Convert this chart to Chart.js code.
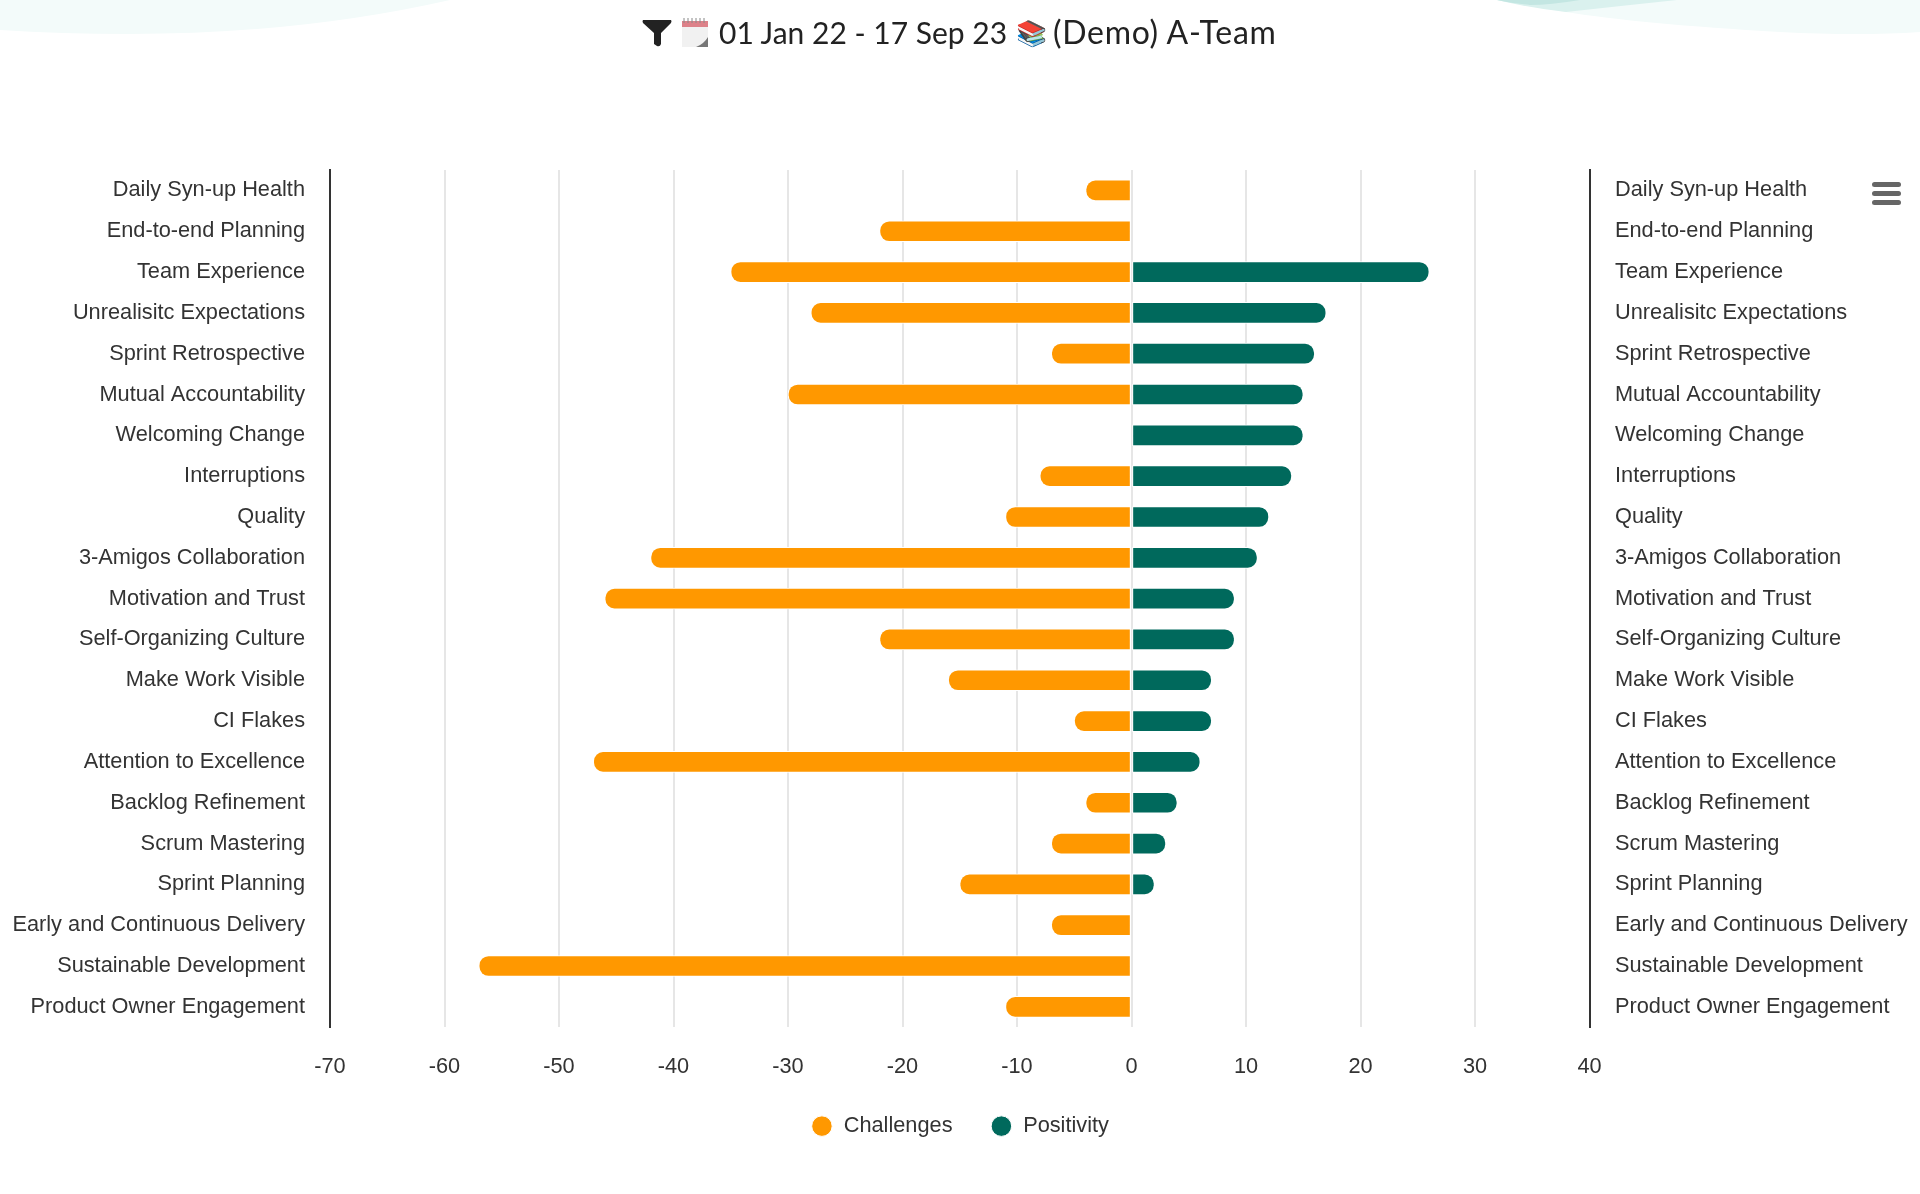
<!DOCTYPE html>
<html>
<head>
<meta charset="utf-8">
<title>Sentiment</title>
<script src="https://cdn.jsdelivr.net/npm/chart.js@4"></script>
<style>
  html, body { margin: 0; padding: 0; background: #fff; }
  #page { position: relative; width: 1920px; height: 1194px; overflow: hidden; }
  #bg { position: absolute; left: 0; top: 0; }
  .head { position: absolute; top: 12px; font: 30px/40px Lato, sans-serif; color: #222; white-space: nowrap; }
  #menu { position: absolute; left: 1872px; top: 182px; }
  canvas { position: absolute; left: 0; top: 0; }
</style>
</head>
<body>
<div id="page">
  <svg id="bg" width="1920" height="60">
    <path d="M0 0 H450 Q300 34 130 34 Q60 34 0 30 Z" fill="#f3fbfa"/>
    <path d="M1497 0 H1920 V32 Q1860 36 1780 32 Q1640 24 1566 12 Z" fill="#f3fbfa"/>
    <path d="M1497 0 H1677 Q1620 6 1566 12 Q1530 8 1497 0 Z" fill="#daf1ee"/>
    <path d="M1497 0 H1580 Q1550 5 1530 5 Q1510 3 1497 0 Z" fill="#c3e6e2"/>
  </svg>
  <canvas id="chart" width="1920" height="1194"></canvas>
  <svg class="head" style="left:642px;top:20px" width="30" height="27" viewBox="0 0 30 27">
    <path d="M1 0 H29 Q30 1 29 3 L19 13 V24 Q18 27 15 26 L12 24 V13 L1 3 Q0 1 1 0 Z" fill="#222"/>
  </svg>
  <svg class="head" style="left:682px;top:17px" width="27" height="31" viewBox="0 0 27 31">
    <rect x="0" y="4" width="26" height="26" fill="#f1f1f1"/>
    <rect x="0" y="4" width="26" height="6" fill="#dd8189"/>
    <path d="M2 1 V6 M6 1 V6 M10 1 V6 M14 1 V6 M18 1 V6 M22 1 V6" stroke="#888" stroke-width="1"/>
    <path d="M14 30 Q22 27 26 20 V30 Z" fill="#777"/>
  </svg>
  <span class="head" style="left:719px">01 Jan 22 - 17 Sep 23</span>
  <span class="head" style="left:1016px;font-size:25px">📚</span>
  <span class="head" style="left:1053px;font-size:32px;letter-spacing:0.7px">(Demo) A-Team</span>
  <svg id="menu" width="29" height="24">
    <rect x="0" y="0" width="29" height="5" rx="2.5" fill="#666"/>
    <rect x="0" y="9" width="29" height="5" rx="2.5" fill="#666"/>
    <rect x="0" y="18" width="29" height="5" rx="2.5" fill="#666"/>
  </svg>
</div>
<script>
const categories = ['Daily Syn-up Health', 'End-to-end Planning', 'Team Experience', 'Unrealisitc Expectations',
  'Sprint Retrospective', 'Mutual Accountability', 'Welcoming Change', 'Interruptions', 'Quality',
  '3-Amigos Collaboration', 'Motivation and Trust', 'Self-Organizing Culture', 'Make Work Visible', 'CI Flakes',
  'Attention to Excellence', 'Backlog Refinement', 'Scrum Mastering', 'Sprint Planning',
  'Early and Continuous Delivery', 'Sustainable Development', 'Product Owner Engagement'];
const challenges = [-4, -22, -35, -28, -7, -30, 0, -8, -11, -42, -46, -22, -16, -5, -47, -4, -7, -15, -7, -57, -11];
const positivity = [0, 0, 26, 17, 16, 15, 15, 14, 12, 11, 9, 9, 7, 7, 6, 4, 3, 2, 0, 0, 0];

const labelFont = { family: '"Liberation Sans", Arial, sans-serif', size: 21.75 };
const TEXT = '#333333';

new Chart(document.getElementById('chart').getContext('2d'), {
  type: 'bar',
  data: {
    labels: categories,
    datasets: [
      {
        label: 'Challenges',
        data: challenges,
        backgroundColor: '#ff9800',
        borderColor: '#ffffff',
        borderWidth: 1,
        borderSkipped: false,
        borderRadius: { topLeft: 10, bottomLeft: 10 },
        barThickness: 21,
        yAxisID: 'y',
      },
      {
        label: 'Positivity',
        data: positivity,
        backgroundColor: '#00695c',
        borderColor: '#ffffff',
        borderWidth: 1,
        borderSkipped: false,
        borderRadius: { topRight: 10, bottomRight: 10 },
        barThickness: 21,
        yAxisID: 'y',
      },
    ],
  },
  options: {
    indexAxis: 'y',
    responsive: false,
    animation: false,
    layout: { padding: { top: 170, bottom: 47, left: 0, right: 0 } },
    plugins: {
      tooltip: { enabled: false },
      legend: {
        position: 'bottom',
        labels: {
          usePointStyle: true,
          pointStyle: 'circle',
          boxWidth: 22,
          boxHeight: 14.5,
          color: TEXT,
          font: labelFont,
          padding: 38,
        },
      },
    },
    scales: {
      x: {
        stacked: true,
        min: -70,
        max: 40,
        ticks: { stepSize: 10, color: TEXT, font: labelFont, padding: 27, maxRotation: 0 },
        grid: { color: '#e6e6e6', lineWidth: 2, drawTicks: false },
        border: { display: false },
        afterFit: (axis) => { axis.height = 50; },
      },
      y: {
        stacked: true,
        position: 'left',
        ticks: { color: TEXT, font: labelFont, padding: 25, autoSkip: false },
        grid: { display: false, drawTicks: false },
        border: { color: '#333333', width: 2 },
        afterFit: (axis) => { axis.width = 330; },
      },
      y2: {
        type: 'category',
        labels: categories,
        position: 'right',
        ticks: { color: TEXT, font: labelFont, padding: 25.5, autoSkip: false },
        grid: { display: false, drawTicks: false },
        border: { color: '#333333', width: 2 },
        afterFit: (axis) => { axis.width = 330.5; },
      },
    },
  },
});
</script>
</body>
</html>
